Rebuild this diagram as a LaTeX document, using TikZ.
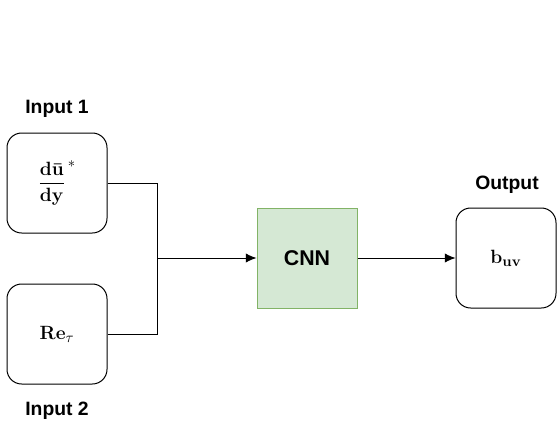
\documentclass[tikz,border=0pt]{standalone}
\usepackage[no-math]{fontspec}
\usepackage{amsmath}
\usetikzlibrary{arrows.meta}
\newfontfamily\headfont{Liberation Sans}
\definecolor{cnnfill}{HTML}{D5E8D4}
\definecolor{cnnline}{HTML}{82B366}
\begin{document}
\begin{tikzpicture}[x=0.75pt,y=-0.75pt,
  box/.style={draw,line width=0.75pt,rounded corners=11pt,minimum size=75pt,font=\fontsize{15}{18}\selectfont},
  cnnbox/.style={draw=cnnline,fill=cnnfill,line width=0.75pt,minimum size=75pt,font=\headfont\bfseries\fontsize{16}{19}\selectfont},
  lbl/.style={font=\headfont\bfseries\fontsize{14.5}{17}\selectfont},
  link/.style={line width=0.75pt},
  arr/.style={link,-{Latex[length=8pt,width=7pt]}}]
\useasboundingbox (0,0) rectangle (557,429);
\node[box] (in1) at (57,183) {$\dfrac{\mathbf{d\bar{u}}}{\mathbf{dy}}^{\,*}$};
\node[box] (in2) at (57,334) {$\mathbf{Re}_\tau$};
\node[cnnbox] (cnn) at (307,258) {CNN};
\node[box] (out) at (506,258) {$\mathbf{b_{uv}}$};
\node[lbl] (lab1) at (57,109) {Input 1};
\node[lbl] (lab2) at (57,411) {Input 2};
\node[lbl] (labout) at (507,185) {Output};
\coordinate (j) at (157,258);
\draw[link] (in1.east) -| (j);
\draw[link] (in2.east) -| (j);
\draw[arr] (j) -- (cnn.west);
\draw[arr] (cnn.east) -- (out.west);
\end{tikzpicture}
\end{document}
